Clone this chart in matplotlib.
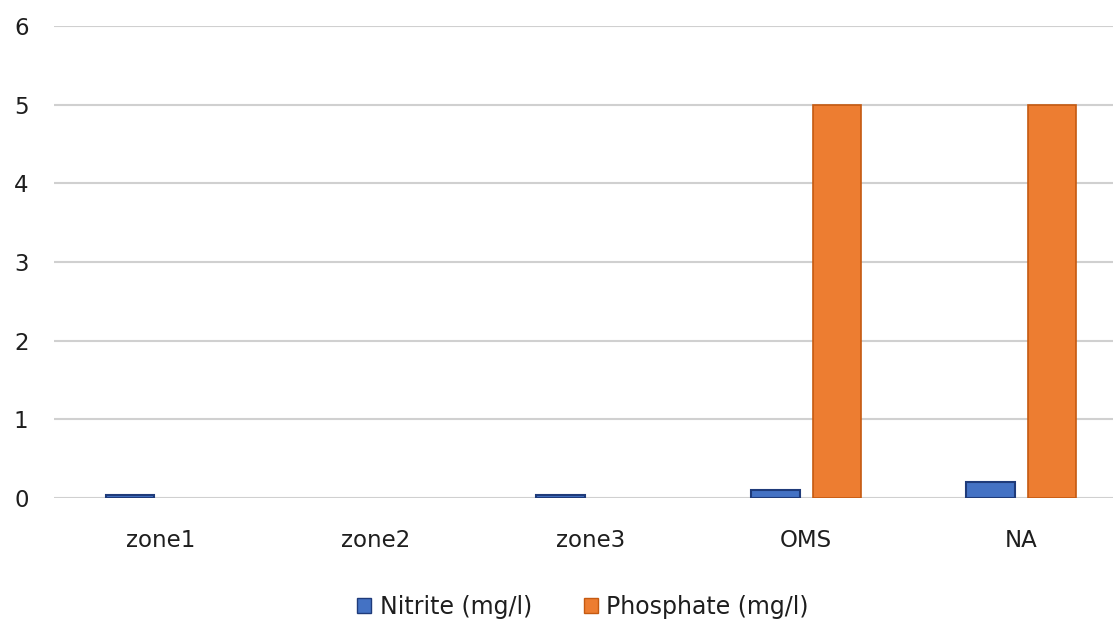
import matplotlib.pyplot as plt
import numpy as np

# Concentrations per sampling site
sites = ['zone1', 'zone2', 'zone3', 'OMS', 'NA']
nitrite = [0.04, 0.0, 0.04, 0.1, 0.2]
phosphate = [0.0, 0.0, 0.0, 5.0, 5.0]

plt.rcParams['font.family'] = ['DejaVu Sans']

fig = plt.figure(figsize=(11.13, 6.21), dpi=100)
ax = fig.add_axes([0.0481, 0.198, 0.9659, 0.760])

x = np.arange(len(sites))
w = 0.225
off = 0.143

# no outline on empty bars
nit_lw = [1.5 if v > 0 else 0 for v in nitrite]
pho_lw = [1.2 if v > 0 else 0 for v in phosphate]

ax.bar(x - off, nitrite, w, color='#4472C4', edgecolor='#1F3B7A', linewidth=nit_lw,
       label='Nitrite (mg/l)', zorder=3)
ax.bar(x + off, phosphate, w, color='#ED7D31', edgecolor='#C55A11', linewidth=pho_lw,
       label='Phosphate (mg/l)', zorder=3)

ax.set_xlim(-0.5, len(sites) - 0.5)
ax.set_ylim(0, 6)
ax.set_yticks(range(0, 7))
ax.set_xticks(x)
ax.set_xticklabels(sites)
ax.tick_params(axis='both', length=0, labelsize=16.5, colors='#1e1e1e')
ax.tick_params(axis='y', pad=18)
ax.tick_params(axis='x', pad=22)

ax.grid(axis='y', color='#d0d0d0', linewidth=1.5, zorder=0)
for s in ax.spines.values():
    s.set_visible(False)

leg = fig.legend(loc='center', bbox_to_anchor=(583 / 1113, 1 - 607 / 621), ncol=2,
                 frameon=False, fontsize=17, handlelength=0.6, handleheight=0.6,
                 handletextpad=0.35, columnspacing=2.2, labelcolor='#1e1e1e')
for h in leg.legend_handles:
    h.set_linewidth(1.0)

fig.savefig('out.png', dpi=100)
